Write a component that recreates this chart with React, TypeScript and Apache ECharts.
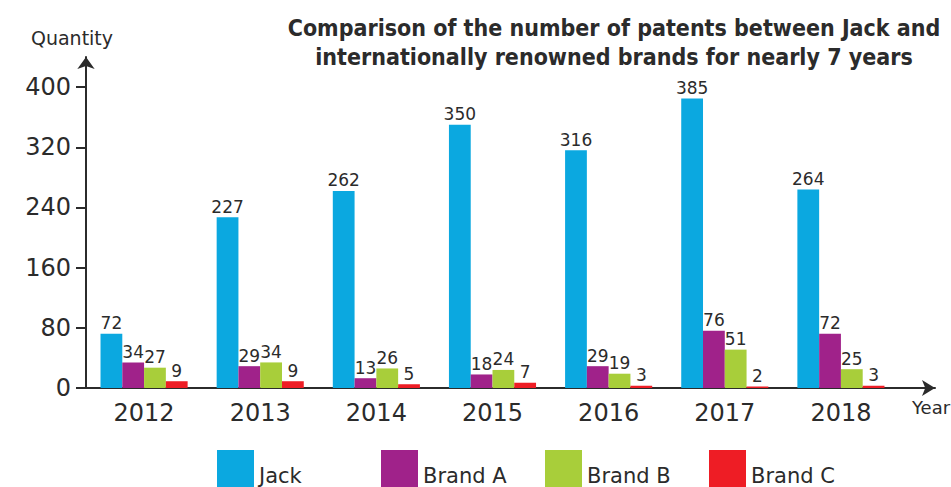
import React, { useEffect, useRef } from 'react';
import * as echarts from 'echarts';

const years = ['2012', '2013', '2014', '2015', '2016', '2017', '2018'];
const jack = [72, 227, 262, 350, 316, 385, 264];
const brandA = [34, 29, 13, 18, 29, 76, 72];
const brandB = [27, 34, 26, 24, 19, 51, 25];
const brandC = [9, 9, 5, 7, 3, 2, 3];
const yTicks = [0, 80, 160, 240, 320, 400];
const seriesNames = ['Jack', 'Brand A', 'Brand B', 'Brand C'];
const seriesData = [jack, brandA, brandB, brandC];
const colors = ['#0BA8E0', '#A0228A', '#A8CE3A', '#EE1D25'];
const legendLefts = [217, 381, 545, 709];
const titleText = 'Comparison of the number of patents between Jack and\ninternationally renowned brands for nearly 7 years';

const FONT = '"DejaVu Sans", sans-serif';
const TEXT = '#2b2b2b';

export default function App() {
  const ref = useRef<HTMLDivElement>(null);
  useEffect(() => {
    document.body.style.margin = '0';
    if (!ref.current) return;
    const chart = echarts.init(ref.current, null, { renderer: 'svg' });
    const axisLineStyle = { color: '#2b2b2b', width: 2 };
    chart.setOption({
      animation: false,
      title: {
        text: titleText,
        left: 609,
        top: 8,
        textAlign: 'center',
        textStyle: {
          fontFamily: '"DejaVu Sans Condensed", "DejaVu Sans", sans-serif',
          fontSize: 23,
          fontWeight: 'bold',
          color: TEXT,
          lineHeight: 29,
        },
      },
      legend: seriesNames.map((name, i) => ({
        data: [name],
        top: 450,
        left: legendLefts[i],
        padding: 0,
        itemWidth: 37,
        itemHeight: 37,
        itemGap: 0,
        icon: 'rect',
        formatter: '{t|{name}}',
        textStyle: {
          fontFamily: FONT,
          fontSize: 21,
          color: TEXT,
          rich: {
            t: { fontFamily: FONT, fontSize: 21, color: TEXT, padding: [14, 0, 0, 0] },
          },
        },
      })),
      grid: [
        { left: 86, right: 52, top: 57, bottom: 99 },
        { left: 86, right: 16, top: 57, bottom: 99 },
      ],
      xAxis: [
        {
          type: 'category',
          gridIndex: 0,
          data: years,
          axisLine: { show: false },
          axisTick: { show: false },
          axisLabel: { fontFamily: FONT, fontSize: 24, color: TEXT, margin: 13 },
        },
        {
          type: 'value',
          gridIndex: 1,
          min: 0,
          max: 1,
          axisLine: { show: true, symbol: ['none', 'arrow'], symbolSize: [12, 13], lineStyle: axisLineStyle },
          axisTick: { show: false },
          axisLabel: { show: false },
          splitLine: { show: false },
        },
      ],
      yAxis: [
        {
          type: 'value',
          gridIndex: 0,
          min: 0,
          max: 440,
          name: 'Quantity',
          nameLocation: 'end',
          nameGap: 10,
          nameTextStyle: { fontFamily: FONT, fontSize: 19, color: TEXT, padding: [0, 28, 0, 0] },
          axisLine: { show: true, symbol: ['none', 'arrow'], symbolSize: [13, 12], lineStyle: axisLineStyle },
          axisTick: { show: true, length: 10, customValues: yTicks, lineStyle: axisLineStyle },
          axisLabel: { fontFamily: FONT, fontSize: 24, color: TEXT, margin: 15, customValues: yTicks },
          splitLine: { show: false },
        },
        { type: 'value', gridIndex: 1, min: 0, max: 1, show: false },
      ],
      graphic: [
        {
          type: 'text',
          left: 912,
          top: 398,
          style: { text: 'Year', fontFamily: FONT, fontSize: 18, fill: TEXT },
        },
      ],
      series: seriesNames.map((name, i) => ({
        name,
        type: 'bar',
        xAxisIndex: 0,
        yAxisIndex: 0,
        data: seriesData[i],
        barGap: '0%',
        barCategoryGap: '25%',
        itemStyle: { color: colors[i] },
        label: {
          show: true,
          position: 'top',
          distance: 2,
          fontFamily: FONT,
          fontSize: 17,
          color: TEXT,
        },
      })),
    });
    return () => chart.dispose();
  }, []);
  return <div ref={ref} style={{ width: 951, height: 487 }} />;
}
